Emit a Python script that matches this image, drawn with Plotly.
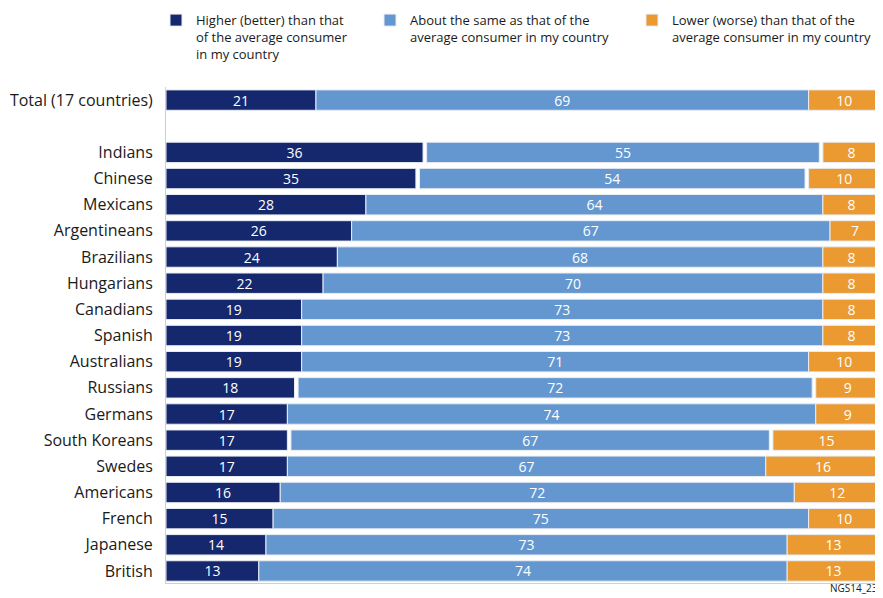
import plotly.graph_objects as go

categories = ["Total (17 countries)", "Indians", "Chinese", "Mexicans", "Argentineans", "Brazilians",
              "Hungarians", "Canadians", "Spanish", "Australians", "Russians", "Germans",
              "South Koreans", "Swedes", "Americans", "French", "Japanese", "British"]
higher = [21, 36, 35, 28, 26, 24, 22, 19, 19, 19, 18, 17, 17, 17, 16, 15, 14, 13]
same = [69, 55, 54, 64, 67, 68, 70, 73, 73, 71, 72, 74, 67, 67, 72, 75, 73, 74]
lower = [10, 8, 10, 8, 7, 8, 8, 8, 8, 10, 9, 9, 15, 16, 12, 10, 13, 13]
names = ["Higher (better) than that<br>of the average consumer<br>in my country",
         "About the same as that of the<br>average consumer in my country",
         "Lower (worse) than that of the<br>average consumer in my country"]
colors = ["#15286e", "#6497cf", "#eb9a32"]

# row positions: Total on top, one blank row, then countries
ypos = [0] + list(range(2, 2 + len(categories) - 1))
gap = [(100 - h - s - l) / 2 for h, s, l in zip(higher, same, lower)]
base_same = [h + g for h, g in zip(higher, gap)]
base_lower = [100 - l for l in lower]

FONT = "Open Sans"
fig = go.Figure()
common = dict(orientation="h", y=ypos, width=0.78, textposition="inside",
              insidetextanchor="middle", textangle=0, constraintext="none",
              textfont=dict(color="white", size=14, family=FONT),
              hoverinfo="skip")
fig.add_trace(go.Bar(x=higher, base=[0] * len(higher), text=higher, name=names[0], legend="legend",
                     marker=dict(color=colors[0], line=dict(color="#e8ecf4", width=1)), **common))
fig.add_trace(go.Bar(x=same, base=base_same, text=same, name=names[1], legend="legend2",
                     marker=dict(color=colors[1], line=dict(color="#e8ecf4", width=1)), **common))
fig.add_trace(go.Bar(x=lower, base=base_lower, text=lower, name=names[2], legend="legend3",
                     marker=dict(color=colors[2], line=dict(color="#e8ecf4", width=1)), **common))

# page has an 8px body margin: figure drawn 8px in from the window's top-left
plot_left, plot_w = 166, 714
def lx(px):
    return (px - plot_left) / plot_w

leg_common = dict(y=1.165, yanchor="top", xanchor="left", valign="top", orientation="h",
                  font=dict(size=13, color="#1a1a1a", family=FONT),
                  itemclick=False, itemdoubleclick=False, bgcolor="rgba(0,0,0,0)")

fig.update_layout(
    width=875, height=590,
    margin=dict(l=158, r=3, t=79, b=15, autoexpand=False),
    barmode="overlay",
    plot_bgcolor="white", paper_bgcolor="white",
    font=dict(family=FONT, color="#1a1a1a"),
    xaxis=dict(range=[0, 100], showticklabels=False, showgrid=False, zeroline=False,
               showline=True, linecolor="#cfcfcf", linewidth=1, mirror=False, ticks=""),
    yaxis=dict(range=[18.46, -0.5], tickvals=ypos, ticktext=categories, showgrid=False,
               zeroline=False, showline=True, linecolor="#cfcfcf", linewidth=1,
               tickfont=dict(size=16, color="#1a1a1a", family=FONT), ticks="",
               ticklabelstandoff=9),
    legend=dict(x=lx(196 - 40), **leg_common),
    legend2=dict(x=lx(410 - 40), **leg_common),
    legend3=dict(x=lx(672 - 40), **leg_common),
    showlegend=True,
)
fig.add_annotation(text="NGS14_23", xref="paper", yref="paper", x=1.0, y=-0.029,
                   xanchor="right", yanchor="bottom", showarrow=False,
                   font=dict(size=10, color="#1a1a1a", family=FONT))

fig.write_html("out.html")
